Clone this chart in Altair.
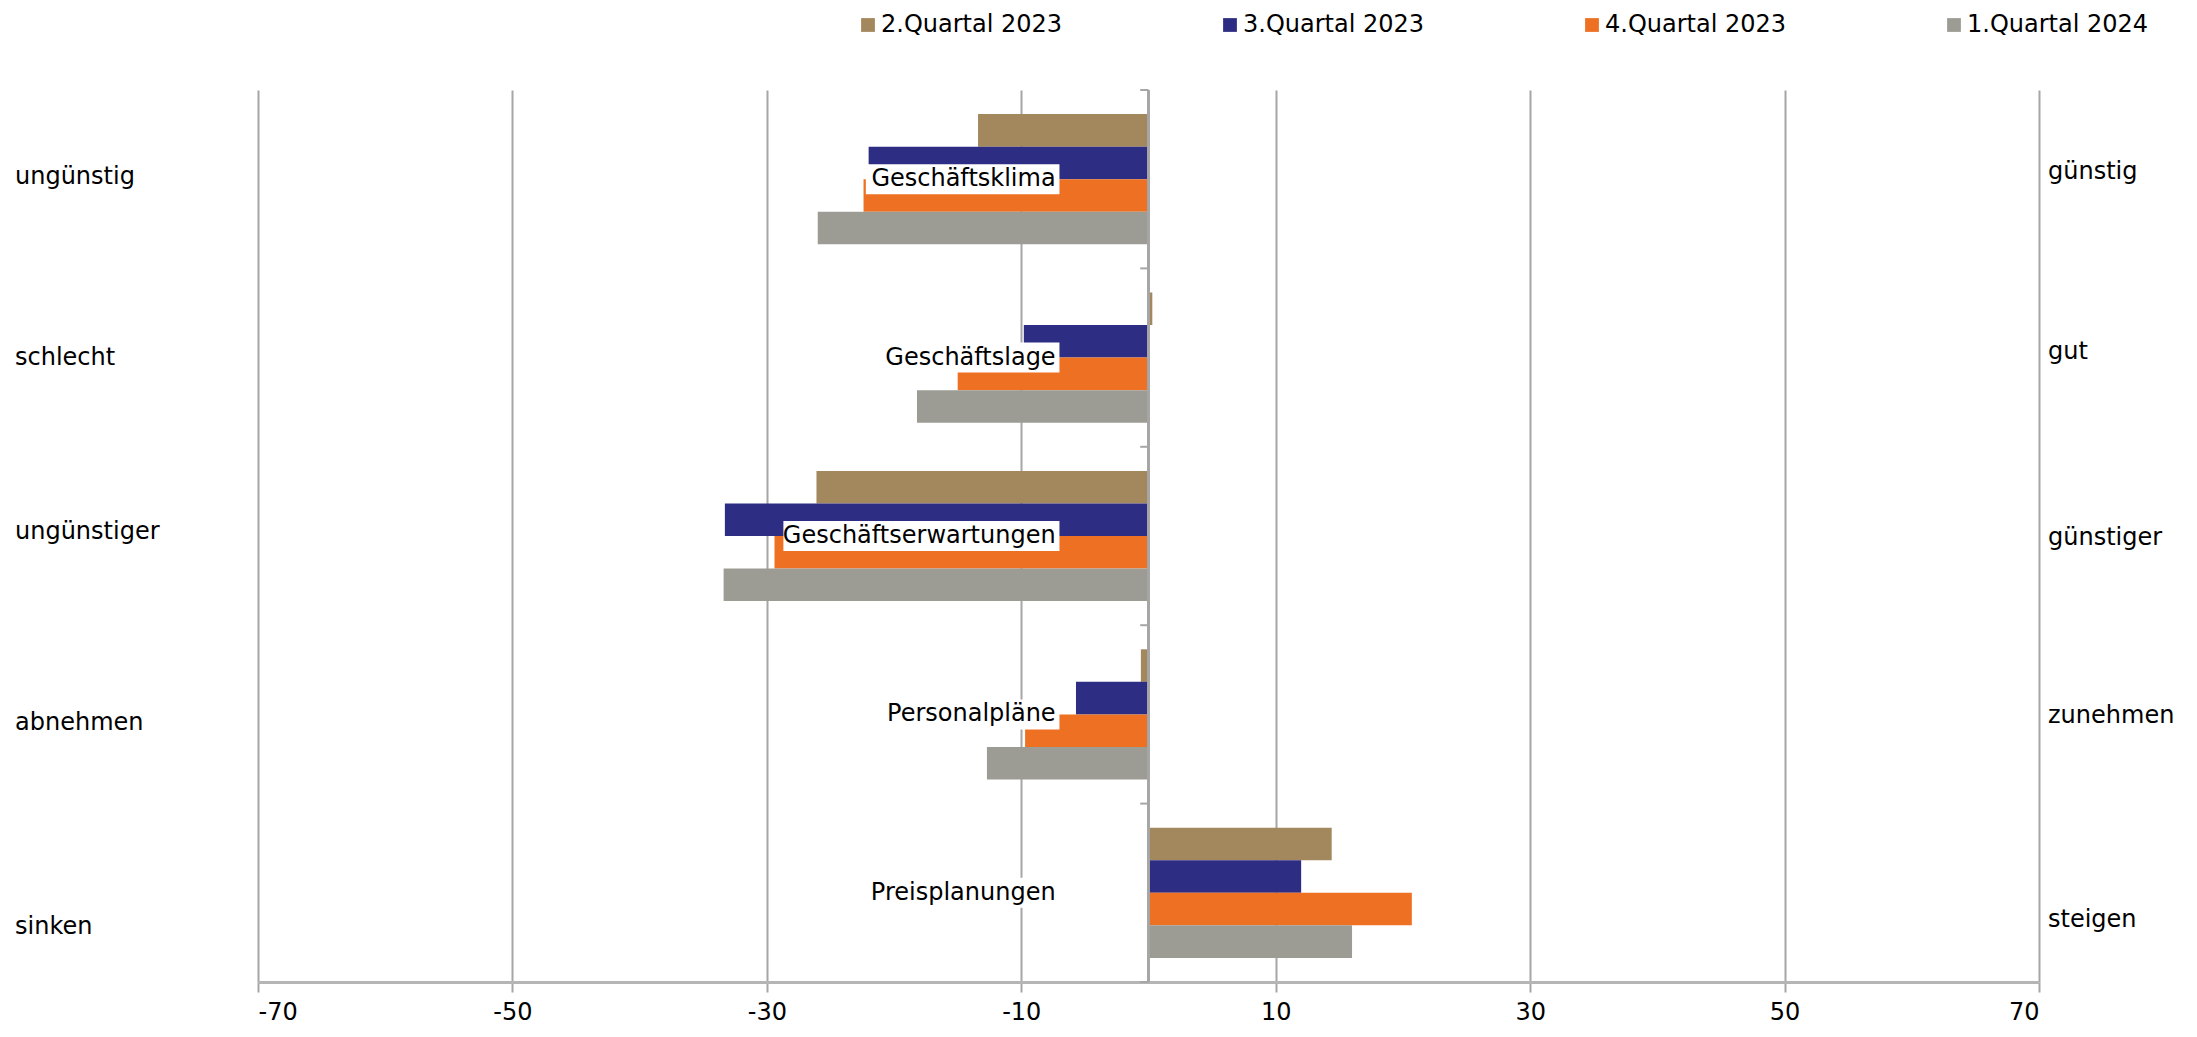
import altair as alt
import pandas as pd

categories = ["Geschäftsklima", "Geschäftslage", "Geschäftserwartungen", "Personalpläne", "Preisplanungen"]
series = ["2.Quartal 2023", "3.Quartal 2023", "4.Quartal 2023", "1.Quartal 2024"]
q2_2023 = [-13.4, 0.3, -26.1, -0.6, 14.4]
q3_2023 = [-22.0, -9.8, -33.3, -5.7, 12.0]
q4_2023 = [-22.4, -15.0, -29.4, -9.7, 20.7]
q1_2024 = [-26.0, -18.2, -33.4, -12.7, 16.0]
colors = ["#A3875D", "#2E2D84", "#EE7023", "#9D9C94"]
x_ticks = [-70, -50, -30, -10, 10, 30, 50, 70]
left_labels = ["ungünstig", "schlecht", "ungünstiger", "abnehmen", "sinken"]
right_labels = ["günstig", "gut", "günstiger", "zunehmen", "steigen"]
left_pos = [0.49, 1.5, 2.48, 3.55, 4.69]
right_pos = [0.46, 1.47, 2.51, 3.51, 4.65]
group_bounds = [0, 1, 2, 3, 4, 5]

W, H = 1781, 892
FONT = "DejaVu Sans"
GRID = "#a6a6a6"

rows = []
for s, vals in zip(series, [q2_2023, q3_2023, q4_2023, q1_2024]):
    for c, v in zip(categories, vals):
        rows.append({"cat": c, "series": s, "value": v})
bars_df = pd.DataFrame(rows)
lab_df = pd.DataFrame({"cat": categories})
left_df = pd.DataFrame({"label": left_labels, "pos": left_pos})
right_df = pd.DataFrame({"label": right_labels, "pos": right_pos})
bounds_df = pd.DataFrame({"pos": group_bounds})

xscale = alt.Scale(domain=[-70, 70], nice=False, zero=False)
yscale = alt.Scale(domain=categories, paddingInner=0.27, paddingOuter=0.135)
side_scale = alt.Scale(domain=[0, 5], reverse=True, nice=False, zero=False)

bars = alt.Chart(bars_df).mark_bar().encode(
    y=alt.Y("cat:N", sort=categories, scale=yscale, axis=None),
    yOffset=alt.YOffset("series:N", sort=series,
                        scale=alt.Scale(domain=series, paddingInner=0, paddingOuter=0)),
    x=alt.X("value:Q", scale=xscale,
            axis=alt.Axis(values=x_ticks, labelExpr="datum.value + ''", title=None, grid=True,
                          gridColor=GRID, gridWidth=2, tickColor=GRID, tickWidth=2,
                          tickSize=10, domainColor="#b5b5b5", domainWidth=3,
                          labelFontSize=24, labelFont=FONT, labelColor="#000000",
                          labelPadding=8)),
    color=alt.Color("series:N", sort=series,
                    scale=alt.Scale(domain=series, range=colors),
                    legend=alt.Legend(title=None, orient="none", direction="horizontal",
                                      columns=4, legendX=598, legendY=-77,
                                      symbolType="square", symbolSize=190,
                                      symbolStrokeWidth=0, labelFontSize=24,
                                      labelFont=FONT, labelColor="#000000",
                                      labelOffset=1, columnPadding=155, padding=0,
                                      labelLimit=400)),
)

boxes = alt.Chart(lab_df).transform_calculate(
    xl="-7.1 - length(datum.cat) * 1.08",
    xr="-7.0",
).mark_bar(color="white", size=30).encode(
    y=alt.Y("cat:N", sort=categories, scale=yscale),
    x=alt.X("xl:Q", scale=xscale),
    x2="xr:Q",
)

texts = alt.Chart(lab_df).mark_text(
    align="right", baseline="middle", font=FONT, fontSize=24, color="#000000"
).encode(
    y=alt.Y("cat:N", sort=categories, scale=yscale),
    x=alt.datum(-7.3, scale=xscale),
    text="cat:N",
)

inner = alt.layer(bars, boxes, texts)

zero_line = alt.Chart(bounds_df).mark_rule(color=GRID, strokeWidth=2).encode(
    x=alt.datum(0, scale=xscale),
)
group_ticks = alt.Chart(bounds_df).mark_rule(color=GRID, strokeWidth=2).encode(
    y=alt.Y("pos:Q", scale=side_scale, axis=None),
    x=alt.datum(-0.65, scale=xscale),
    x2=alt.datum(0),
)

left = alt.Chart(left_df).mark_text(
    align="left", baseline="middle", font=FONT, fontSize=24, color="#000000"
).encode(
    y=alt.Y("pos:Q", scale=side_scale, axis=None),
    x=alt.value(-243),
    text="label:N",
)
right = alt.Chart(right_df).mark_text(
    align="left", baseline="middle", font=FONT, fontSize=24, color="#000000"
).encode(
    y=alt.Y("pos:Q", scale=side_scale, axis=None),
    x=alt.value(W + 9),
    text="label:N",
)

side = alt.layer(group_ticks, left, right)

chart = alt.layer(inner, zero_line, side).resolve_scale(y="independent").properties(
    width=W, height=H,
    autosize=alt.AutoSizeParams(type="none"),
    padding={"left": 250, "top": 82, "right": 140, "bottom": 46},
).configure(font=FONT).configure_view(stroke=None)

chart.save("out.html", embed_options={"renderer": "svg", "actions": False})
